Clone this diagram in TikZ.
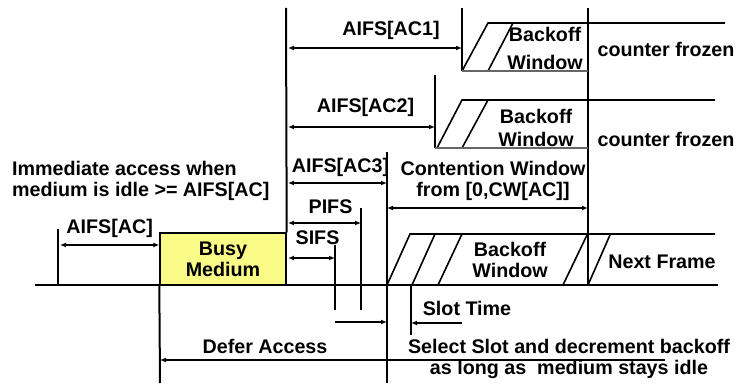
\documentclass[tikz,border=0pt]{standalone}
\usepackage{fontspec}
\setmainfont{Liberation Sans}
\usepackage{xcolor}
\usepackage{tikz}
\usetikzlibrary{arrows.meta,positioning,calc}

\definecolor{busyfill}{RGB}{250,250,135}

\begin{document}
\begin{tikzpicture}[
    x=1pt, y=-1pt,
    font=\bfseries\fontsize{19.7}{21}\selectfont,
    lbl/.style={align=center, inner sep=0pt},
    tick/.style={line width=2pt},
    axis/.style={line width=2.4pt},
    edge/.style={line width=1.6pt},
    thin/.style={line width=1.2pt},
    dim/.style={<->, line width=1.5pt},
    busy/.style={draw, line width=1.4pt, fill=busyfill, align=center,
                 minimum width=126pt, minimum height=52pt, inner sep=0pt},
    >={Latex[length=6pt,width=5pt]},
    ]
\useasboundingbox (0,0) rectangle (741,387);

% ---- time axis and busy medium ----
\coordinate (axL) at (35,285);
\coordinate (axR) at (718,285);
\draw[axis] (axL) -- (axR);
\node[busy] (busy) at (223,259) {Busy\\Medium};

% ---- slot boundaries ----
\coordinate (aifsT) at (58,229);
\coordinate (deferB) at (160,383);
\coordinate (topL) at (286,8);
\coordinate (sifsT) at (335,245);
\coordinate (sifsB) at (335,310);
\coordinate (pifsT) at (361,208);
\coordinate (pifsB) at (361,310);
\coordinate (ac3T) at (387,152);
\coordinate (ac3B) at (387,383);
\coordinate (slotB) at (411,335);
\coordinate (cwT) at (588,8);
\coordinate (cwB) at (588,285);

\draw[tick] (aifsT) -- (aifsT |- axL);
\draw[tick] (busy.south west) -- (deferB);
\draw[tick] (topL) -- (busy.north east);
\draw[tick] (sifsT) -- (sifsB);
\draw[tick] (pifsT) -- (pifsB);
\draw[tick] (ac3T) -- (ac3B);
\draw[tick] (slotB |- axL) -- (slotB);
\draw[tick] (cwT) -- (cwB);

% ---- AC1 backoff (frozen) ----
\coordinate (ac1T) at (462,8);
\coordinate (ac1B) at (462,71);
\draw[tick] (ac1T) -- (ac1B);
\draw[edge] (ac1B) -- (488,23) -- (725,23);
\draw[edge] (488,71) -- (513,23);
\draw[thin, black!60] (ac1B) -- (cwT |- ac1B);
\node[lbl] (bw1) at (545,48) {Backoff\\[7pt]Window};
\node[lbl] (cf1) at (666,49) {counter frozen};

% ---- AC2 backoff (frozen) ----
\coordinate (ac2T) at (435,75);
\coordinate (ac2B) at (435,148);
\draw[tick] (ac2T) -- (ac2B);
\draw[edge] (437,148) -- (462,100) -- (715,100);
\draw[edge] (462,148) -- (488,100);
\draw[thin, black!60] (ac2B) -- (cwT |- ac2B);
\node[lbl] (bw2) at (536,128) {Backoff\\[2pt]Window};
\node[lbl] (cf2) at (666,139) {counter frozen};

% ---- backoff of the winning AC ----
\draw[edge] (ac3B |- axL) -- (410,234) -- (715,234);
\draw[edge] (412,285) -- (435,234);
\draw[edge] (438,285) -- (462,234);
\draw[edge] (563,285) -- (587,235);
\draw[edge] (cwB) -- (610,235);
\node[lbl] (bw3) at (510,260) {Backoff\\Window};
\node[lbl] (next) at (662,262) {Next Frame};

% ---- interframe spaces ----
\draw[dim] (60,245) -- node[lbl, above=7pt] (aifs) {AIFS[AC]} (busy.west |- 0,245);
\draw[dim] (288,258) -- node[lbl, above=13pt, xshift=6pt] (sifs) {SIFS} (sifsT |- 0,258);
\draw[dim] (288,223) -- node[lbl, above=9pt, xshift=6pt] (pifs) {PIFS} (pifsT |- 0,223);
\draw[dim] (288,183) -- node[lbl, above=6pt, xshift=3pt] (aifs3) {AIFS[AC3]} (ac3T |- 0,183);
\draw[dim] (288,48) -- node[lbl, above=8pt, xshift=16pt] (aifs1) {AIFS[AC1]} (ac1T |- 0,48);
\draw[dim] (288,127) -- node[lbl, above=10pt, xshift=4pt] (aifs2) {AIFS[AC2]} (ac2T |- 0,127);
\draw[dim] (ac3T |- 0,208) -- (cwT |- 0,208);
\node[lbl] (cw) at (493,181) {Contention Window\\from [0,CW[AC]]};

% ---- bottom annotations ----
\draw[->, edge] (335,322) -- (ac3B |- 0,322);
\draw[->, edge] (462,323) -- (slotB |- 0,323);
\node[lbl] (slot) at (467,308) {Slot Time};
\draw[->, edge] (665,360) -- (deferB |- 0,360);
\node[lbl] (defer) at (265,346) {Defer Access};
\node[lbl] (select) at (569,359) {Select Slot and decrement backoff\\as long as\ \ medium stays idle};
\node[lbl, align=left, anchor=north west] (imm) at (12,161) {Immediate access when\\medium is idle >= AIFS[AC]};
\end{tikzpicture}
\end{document}
